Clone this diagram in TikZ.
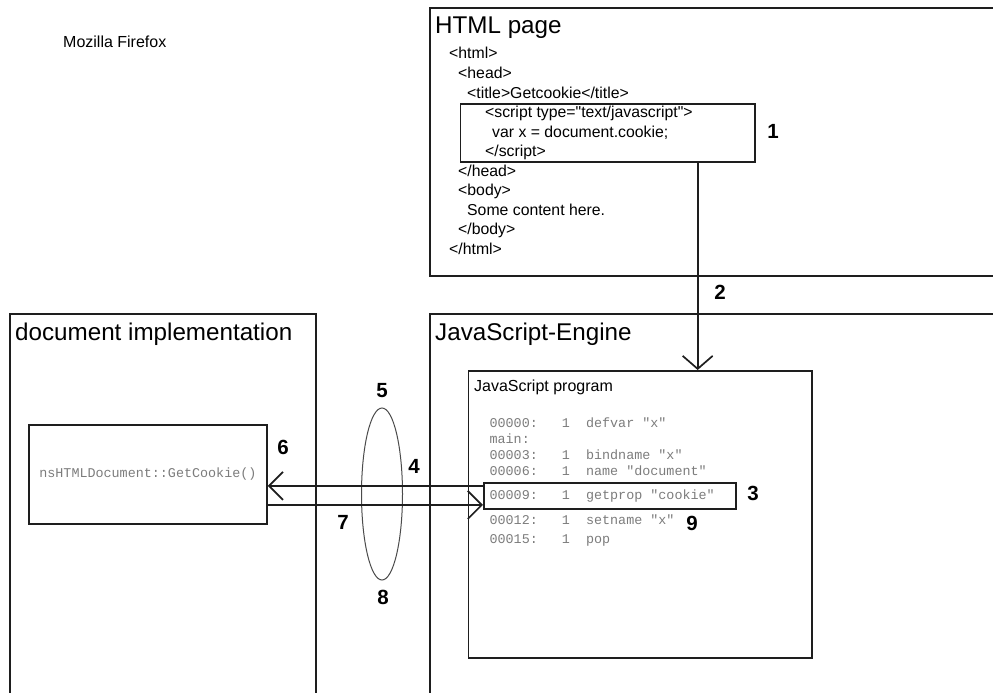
\documentclass[tikz,border=0pt]{standalone}
\usepackage{fontspec}
\setmainfont{Liberation Sans}[Ligatures=TeXOff]
\setmonofont{Liberation Mono}
\usepackage{tikz}
\usetikzlibrary{arrows.meta,shapes.geometric}
\definecolor{ink}{HTML}{1E1E1E}
\definecolor{codegray}{HTML}{7C7C7C}

\begin{document}
\begin{tikzpicture}[
  x=1pt,y=-1pt,
  frame/.style={draw=ink,line width=1.8pt,anchor=north west,inner sep=0pt},
  title/.style={anchor=base west,inner sep=0pt,font=\fontsize{24.2}{28}\selectfont},
  html/.style={anchor=base west,inner sep=0pt,font=\fontsize{15.8}{19}\selectfont},
  code/.style={anchor=base west,inner sep=0pt,text=codegray,font=\ttfamily\fontsize{13.4}{16}\selectfont},
  num/.style={inner sep=0pt,font=\bfseries\fontsize{20.5}{24}\selectfont},
  barb/.style={-{Straight Barb[length=14pt,width=28pt]},draw=ink,line width=1.7pt}
]
\useasboundingbox (0,0) rectangle (993,693);
\clip (0,0) rectangle (993,693);
\node[inner sep=0pt,anchor=base west,font=\fontsize{16}{19}\selectfont] (browser) at (63,48) {Mozilla Firefox};
% the three big frames, cut off at the page edge
\node[frame,minimum width=590pt,minimum height=268pt] (htmlpage) at (429,7) {};
\node[frame,minimum width=590pt,minimum height=400pt] (engine) at (429,313) {};
\node[frame,minimum width=306pt,minimum height=400pt] (docimpl) at (9,313) {};
\node[title] (htmltitle) at (435,34) {HTML page};
\node[title] (enginetitle) at (435,340) {JavaScript-Engine};
\node[title] (docimpltitle) at (15,340) {document implementation};
% page source
\foreach \ind/\txt [count=\i] in {0/{<html>},9/{<head>},18/{<title>Getcookie</title>},
    36/{<script type="text/javascript">},43/{var x = document.cookie;},36/{</script>},
    9/{</head>},9/{<body>},18/{Some content here.},9/{</body>},0/{</html>}}
  \node[html] (src\i) at (449+\ind,39.5+19.5*\i) {\txt};
\node[frame,minimum width=294.5pt,minimum height=58pt] (scriptbox) at (459.5,103) {};
% compiled program
\node[frame,minimum width=343.5pt,minimum height=287pt] (jsprog) at (467.5,370) {};
\node[inner sep=0pt,anchor=base west,font=\fontsize{16}{19}\selectfont] (progtitle) at (474,391) {JavaScript program};
\foreach \yy/\txt [count=\i] in {427/{00000:\ \ \ 1\ \ defvar "x"},443/{main:},
    459/{00003:\ \ \ 1\ \ bindname "x"},475/{00006:\ \ \ 1\ \ name "document"},
    499/{00009:\ \ \ 1\ \ getprop "cookie"},524/{00012:\ \ \ 1\ \ setname "x"},
    543/{00015:\ \ \ 1\ \ pop}}
  \node[code] (op\i) at (489.4,\yy) {\txt};
\node[frame,minimum width=252pt,minimum height=26pt] (callbox) at (483,482) {};
% native side
\node[frame,minimum width=238pt,minimum height=99pt,text=codegray,
  font=\ttfamily\fontsize{13.4}{16}\selectfont] (callee) at (28,424) {nsHTMLDocument::GetCookie()};
\node[draw=ink!80,line width=1pt,ellipse,inner sep=0pt,minimum width=41pt,minimum height=172pt] (bridge) at (382,494) {};
% connectors
\draw[barb,-{Straight Barb[length=13pt,width=30pt]}] ([xshift=90pt]scriptbox.south) -- ([xshift=90pt]scriptbox.south |- jsprog.north);
\draw[barb] ([yshift=10pt]callbox.west) -- ([yshift=10pt]callbox.west -| callee.east);
\draw[barb] ([yshift=-9pt]callbox.west -| callee.east) -- ([yshift=-9pt]callbox.west);
% step numbers
\node[num] (n1) at (773,131) {1};
\node[num] (n2) at (720,292) {2};
\node[num] (n3) at (753,493) {3};
\node[num] (n4) at (414,466) {4};
\node[num] (n5) at (382,391) {5};
\node[num] (n6) at (283,447) {6};
\node[num] (n7) at (343,522) {7};
\node[num] (n8) at (383,597) {8};
\node[num] (n9) at (692,523) {9};
\end{tikzpicture}
\end{document}
